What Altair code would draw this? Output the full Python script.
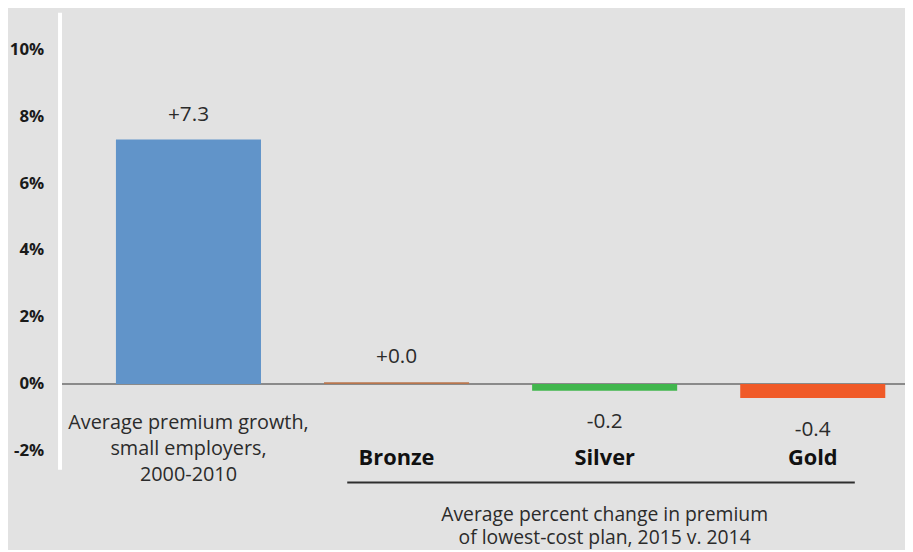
import altair as alt
import pandas as pd

# ---- data ----
cat_keys = ["Small employers", "Bronze", "Silver", "Gold"]
values = [7.3, 0.05, -0.2, -0.42]
value_labels = ["+7.3", "+0.0", "-0.2", "-0.4"]
bar_colors = ["#6194c9", "#b8764e", "#41b64d", "#f05a28"]
tier_names = ["Bronze", "Silver", "Gold"]
caption_lines = ["Average premium growth,", "small employers,", "2000-2010"]
group_caption = ["Average percent change in premium", "of lowest-cost plan, 2015 v. 2014"]
y_ticks = [-2, 0, 2, 4, 6, 8, 10]

FONT = "Open Sans"
BG = "#e2e2e2"
TXT = "#2b2b2b"

df = pd.DataFrame({
    "cat": cat_keys,
    "value": values,
    "label": value_labels,
    "color": bar_colors,
})
df["pos"] = df["value"] >= 0

tiers = pd.DataFrame({"cat": tier_names})

xscale = alt.Scale(domain=cat_keys, range=[4, 886], paddingInner=0.303, paddingOuter=0.252)
yscale = alt.Scale(domain=[-2.55, 11.1], nice=False, zero=False)

X = alt.X("cat:N", scale=xscale, axis=None, sort=cat_keys)

zero_rule = alt.Chart(df).transform_filter("datum.cat == 'Bronze'").transform_calculate(
    z="0"
).mark_rule(color="#8a8a8a", strokeWidth=2).encode(
    y=alt.Y("z:Q", scale=yscale)
)

bars = alt.Chart(df).mark_bar().encode(
    x=X,
    y=alt.Y(
        "value:Q",
        scale=yscale,
        axis=alt.Axis(
            values=y_ticks,
            labelExpr="datum.value + '%'",
            title=None,
            ticks=False,
            grid=False,
            domainColor="white",
            domainWidth=4,
            labelPadding=16,
            labelFont=FONT,
            labelFontWeight="bold",
            labelFontSize=17,
            labelColor="#1a1a1a",
            zindex=1,
        ),
    ),
    y2=alt.datum(0),
    color=alt.Color("color:N", scale=None),
)

pos_labels = alt.Chart(df).transform_filter("datum.pos").mark_text(
    font=FONT, fontSize=21, color=TXT, dy=-25, baseline="middle"
).encode(x=X, y=alt.Y("value:Q", scale=yscale), text="label:N")

neg_labels = alt.Chart(df).transform_filter("!datum.pos").mark_text(
    font=FONT, fontSize=21, color=TXT, dy=32, baseline="middle"
).encode(x=X, y=alt.Y("value:Q", scale=yscale), text="label:N")

tier_text = alt.Chart(tiers).mark_text(
    font=FONT, fontSize=22, fontWeight="bold", color="#111111", dy=75, baseline="middle"
).encode(x=X, y=alt.datum(0), text="cat:N")

cap_df = pd.DataFrame({"cat": [cat_keys[0]], "txt": ["\n".join(caption_lines)]})
caption = alt.Chart(cap_df).mark_text(
    font=FONT, fontSize=20, color=TXT, dy=39, baseline="middle",
    lineBreak="\n", lineHeight=26.5,
).encode(x=X, y=alt.datum(0), text="txt:N")

grp_df = pd.DataFrame({"cat": ["Silver"], "txt": ["\n".join(group_caption)]})
grp_caption = alt.Chart(grp_df).mark_text(
    font=FONT, fontSize=19.5, color=TXT, dy=132, baseline="middle",
    lineBreak="\n", lineHeight=23,
).encode(x=X, y=alt.datum(0), text="txt:N")

underline = alt.Chart(tiers).transform_filter("datum.cat == 'Bronze'").mark_rule(
    color="#2e2e2e", strokeWidth=2
).encode(
    x=alt.XDatum("Bronze", type="nominal", bandPosition=0.16, scale=xscale),
    x2=alt.X2Datum("Gold", bandPosition=0.79),
    y=alt.YDatum(-2.945, scale=yscale),
)

chart = alt.layer(
    zero_rule, bars, pos_labels, neg_labels, tier_text, caption, grp_caption, underline
).properties(
    width=853,
    height=461,
    padding={"left": 52, "top": 2, "right": 0, "bottom": 79},
    autosize=alt.AutoSizeParams(type="none"),
    background=BG,
).configure_view(stroke=None)

chart.save("out.html", embed_options={"renderer": "svg", "actions": False})
